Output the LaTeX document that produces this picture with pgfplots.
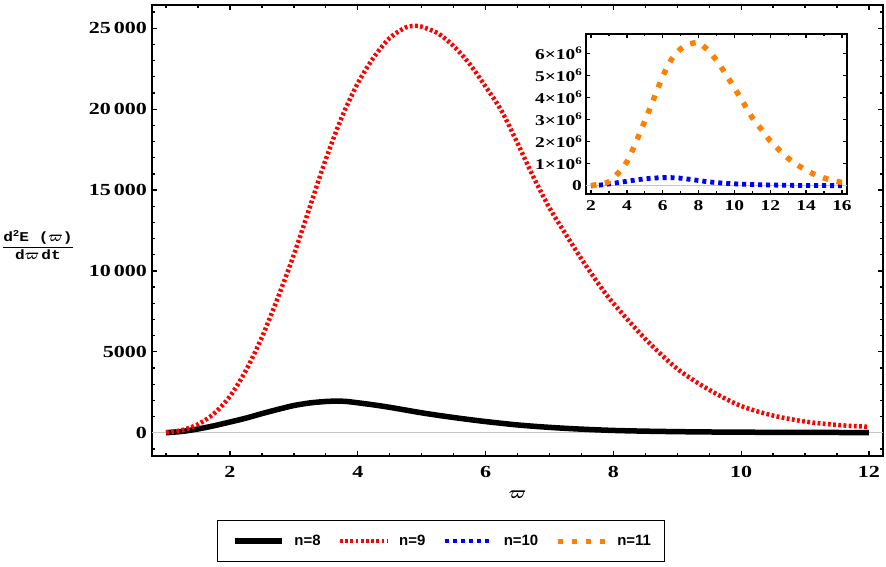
\documentclass[border=0pt]{standalone}
\usepackage{pgfplots}
\pgfplotsset{compat=1.18}
\usepackage{fontspec}
\usepackage{bm}
\setmainfont{Liberation Serif}
\newfontfamily\tickfont{Liberation Serif}[FakeStretch=1.3]
\newfontfamily\legfont{Liberation Sans}
\newfontfamily\labfont{Liberation Mono}[FakeStretch=1.2]
\definecolor{mmaorange}{RGB}{255,128,0}
\newcommand{\sixe}[1]{#1×10\raisebox{0.8ex}{\fontsize{10}{10}\selectfont 6}}
\newcommand{\ylab}{\setlength{\arrayrulewidth}{1.3bp}\begin{tabular}{@{}c@{}}\labfont\bfseries d\raisebox{0.7ex}{\fontsize{9}{9}\selectfont 2}E ($\bm{\varpi}$)\\[1bp]\hline\rule{0pt}{12bp}\labfont\bfseries d$\bm{\varpi}$\,dt\end{tabular}}
\begin{document}
\begin{tikzpicture}
\useasboundingbox (-152bp,-111bp) rectangle (734bp,456bp);
\begin{axis}[
  at={(0,0)}, anchor=south west,
  scale only axis, width=731bp, height=451bp,
  xmin=0.78, xmax=12.22, ymin=-1440, ymax=26440,
  axis line style={line width=1.6bp},
  xtick={2,4,6,8,10,12}, xticklabels={2,4,6,8,10,12},
  minor xtick={1,1.5,...,12},
  ytick={0,5000,10000,15000,20000,25000},
  yticklabels={0,5000,10\,000,15\,000,20\,000,25\,000},
  minor ytick={-1000,0,...,26000},
  scaled y ticks=false,
  tick align=inside,
  major tick length=5bp, minor tick length=3bp,
  tick style={black, line width=1.3bp},
  ticklabel style={font=\fontsize{17}{17}\selectfont\tickfont\bfseries},
  yticklabel style={inner sep=0pt, xshift=-5bp},
  xticklabel style={inner sep=0pt, yshift=-10bp},
  xlabel={$\bm{\varpi}$},
  every axis x label/.style={at={(axis description cs:0.5,-0.0865)}, anchor=center, font=\fontsize{19}{19}\selectfont},
  ylabel={\ylab},
  every axis y label/.style={at={(axis description cs:-0.156,0.463)}, anchor=center, font=\fontsize{13.5}{15}\selectfont},
  legend columns=4,
  legend style={at={(axis description cs:0.396,-0.1885)}, anchor=center, draw=black, line width=1bp,
    inner xsep=14bp, inner ysep=15bp, nodes={inner sep=0pt},
    font=\legfont\bfseries\fontsize{15}{15}\selectfont,
    /tikz/every odd column/.append style={column sep=10bp},
    /tikz/every even column/.append style={column sep=17bp}},
  legend image code/.code={\draw[#1] (0bp,0bp) -- (47bp,0bp);},
]
\addplot[gray!45, line width=0.8bp, forget plot] coordinates {(0.78,0) (12.22,0)};
\addplot[black, line width=5.5bp, smooth] coordinates {
(1.0,0) (1.25,80) (1.5,230) (1.75,430) (2.0,660) (2.25,900) (2.5,1180) (2.75,1440)
(3.0,1680) (3.25,1840) (3.5,1930) (3.65,1950) (3.8,1940) (4.0,1850) (4.25,1720)
(4.5,1570) (4.75,1400) (5.0,1230) (5.25,1080) (5.5,940) (5.75,810) (6.0,690)
(6.5,480) (7.0,330) (7.5,220) (8.0,140) (8.5,95) (9.0,65) (9.5,45) (10,32)
(11,17) (12,10)};
\addlegendentry{n=8}
\addplot[red, line width=4.5bp, dash pattern=on 2.8bp off 2.4bp, smooth] coordinates {
(1.0,20) (1.25,160) (1.5,520) (1.75,1180) (2.0,2250) (2.25,3850) (2.5,5900)
(2.75,8350) (3.0,11000) (3.25,13950) (3.5,16900) (3.75,19500) (4.0,21600)
(4.25,23200) (4.5,24400) (4.75,25050) (4.9,25150) (5.0,25100) (5.25,24700)
(5.5,23900) (5.75,22800) (6.0,21400) (6.25,19900) (6.5,17900) (6.75,15800)
(7.0,13900) (7.25,12300) (7.5,10750) (7.75,9300) (8.0,8000) (8.5,5800)
(9.0,3950) (9.5,2650) (10.0,1650) (10.5,1060) (11.0,690) (11.5,480) (12.0,360)};
\addlegendentry{n=9}
\addlegendimage{blue, line width=4.5bp, dash pattern=on 4bp off 4bp}
\addlegendentry{n=10}
\addlegendimage{mmaorange, line width=5bp, dash pattern=on 5bp off 9bp}
\addlegendentry{n=11}
\end{axis}
\begin{axis}[
  at={(434bp,262bp)}, anchor=south west,
  scale only axis, width=261bp, height=160bp,
  xmin=1.72, xmax=16.28, ymin=-376000, ymax=6875000,
  axis line style={line width=2.2bp},
  xtick={2,4,6,8,10,12,14,16}, xticklabels={2,4,6,8,10,12,14,16},
  minor xtick={2,3,...,16},
  ytick={0,1000000,2000000,3000000,4000000,5000000,6000000},
  yticklabels={0,\sixe{1},\sixe{2},\sixe{3},\sixe{4},\sixe{5},\sixe{6}},
  scaled y ticks=false, scaled x ticks=false,
  tick align=inside,
  major tick length=4bp, minor tick length=2.5bp,
  tick style={black, line width=1.3bp},
  ticklabel style={font=\fontsize{15}{15}\selectfont\tickfont\bfseries},
  xticklabel style={inner sep=0pt, yshift=-6bp},
  yticklabel style={inner sep=0pt, xshift=-4bp},
]
\addplot[gray!45, line width=0.8bp] coordinates {(1.72,0) (16.28,0)};
\addplot[blue, line width=4.8bp, dash pattern=on 4bp off 4bp, smooth] coordinates {
(2.0,0) (2.5,30000) (3.0,80000) (3.5,140000) (4.0,200000) (4.5,260000) (5.0,310000)
(5.5,345000) (6.0,365000) (6.5,365000) (7.0,340000) (7.5,290000) (8.0,235000)
(8.5,180000) (9.0,140000) (9.5,110000) (10.0,85000) (11.0,55000) (12.0,32000)
(13.0,18000) (14.0,10000) (15.0,5000) (16.0,3000)};
\addplot[mmaorange, line width=5.5bp, dash pattern=on 5.5bp off 8.5bp, smooth] coordinates {
(2.0,0) (2.2,30000) (2.6,90000) (3.0,180000) (3.5,560000) (4.0,1080000) (4.5,1960000)
(5.0,2930000) (5.5,3940000) (6.0,4950000) (6.5,5740000) (7.0,6200000) (7.5,6420000)
(7.9,6490000) (8.0,6480000) (8.5,6160000) (9.0,5680000) (9.5,5080000) (10.0,4430000)
(10.5,3760000) (11.0,3080000) (11.5,2560000) (12.0,2030000) (12.5,1620000)
(13.0,1240000) (13.5,950000) (14.0,700000) (14.5,500000) (15.0,350000)
(15.5,230000) (16.0,150000)};
\end{axis}
\end{tikzpicture}
\end{document}
